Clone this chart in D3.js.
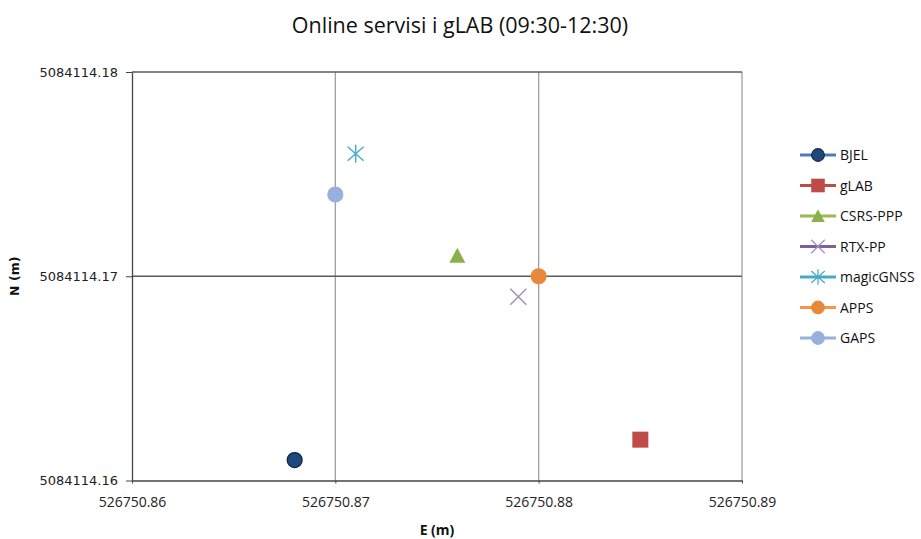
<!DOCTYPE html>
<html lang="hr">
  <head>
    <meta charset="UTF-8" />
    <title>Online servisi i gLAB</title>
    <style>
      body { margin: 0; background: #fff; }
      .tick text { fill: #222; }
    </style>
  </head>
  <body>
    <script src="https://d3js.org/d3.v7.min.js"></script>
    <script>
      // data
      const stations = ["BJEL", "gLAB", "CSRS-PPP", "RTX-PP", "magicGNSS", "APPS", "GAPS"];
      const eastings = [526750.868, 526750.885, 526750.876, 526750.879, 526750.871, 526750.880, 526750.870];
      const northings = [5084114.161, 5084114.162, 5084114.171, 5084114.169, 5084114.176, 5084114.170, 5084114.174];
      const xTicks = [526750.86, 526750.87, 526750.88, 526750.89];
      const yTicks = [5084114.16, 5084114.17, 5084114.18];

      const lineColors = ["#4a7ebb", "#be4b48", "#98b954", "#7d60a0", "#46aac5", "#f79646", "#98b0dc"];
      const markColors = ["#1f497d", "#be4b48", "#8ab04a", "#a48fc2", "#4bacc6", "#e8883a", "#98b0dc"];
      const shapes = ["circle", "square", "triangle", "x", "star", "circle", "circle"];

      const W = 921, H = 539;
      const margin = { top: 72, right: 179, bottom: 58, left: 132 };

      const svg = d3.select("body").append("svg").attr("width", W).attr("height", H);

      const x = d3.scaleLinear().domain([526750.86, 526750.89]).range([margin.left, W - margin.right]);
      const y = d3.scaleLinear().domain([5084114.16, 5084114.18]).range([H - margin.bottom - 0.5, margin.top]);

      // vertical grid
      svg.append("g")
        .selectAll("line")
        .data(xTicks.slice(1))
        .join("line")
        .attr("x1", (d) => x(d)).attr("x2", (d) => x(d))
        .attr("y1", y(5084114.18)).attr("y2", y(5084114.16))
        .attr("stroke", "#a0a0a0").attr("stroke-width", 1.3);

      // horizontal grid
      svg.append("g")
        .selectAll("line")
        .data(yTicks.slice(1))
        .join("line")
        .attr("x1", x(526750.86)).attr("x2", x(526750.89))
        .attr("y1", (d) => y(d)).attr("y2", (d) => y(d))
        .attr("stroke", "#5a5a5a").attr("stroke-width", 1.3);

      const fmtX = (d) => d3.format(".2f")(d);
      const xAxis = svg.append("g")
        .attr("transform", `translate(0, ${y(5084114.16)})`)
        .call(d3.axisBottom(x).tickValues(xTicks).tickFormat(fmtX).tickSize(3).tickPadding(14).tickSizeOuter(0));
      xAxis.select(".domain").attr("stroke", "#444").attr("stroke-width", 1.3);
      xAxis.selectAll(".tick line").attr("stroke", "#444");
      xAxis.selectAll("text")
        .style("font-family", "'Liberation Sans Narrow', 'Open Sans', sans-serif")
        .style("font-size", "14px");

      const yAxis = svg.append("g")
        .attr("transform", `translate(${x(526750.86)}, 0)`)
        .call(d3.axisLeft(y).tickValues(yTicks).tickFormat((d) => d3.format(".2f")(d)).tickSize(6).tickPadding(8).tickSizeOuter(0));
      yAxis.select(".domain").attr("stroke", "#444").attr("stroke-width", 1.3);
      yAxis.selectAll(".tick line").attr("stroke", "#444");
      yAxis.selectAll("text")
        .style("font-family", "'DejaVu Sans', Verdana, sans-serif")
        .style("font-size", "13px");

      // title and axis titles
      svg.append("text")
        .attr("x", 460).attr("y", 33)
        .attr("text-anchor", "middle")
        .style("font-family", "'Open Sans', sans-serif")
        .style("font-size", "21.5px")
        .attr("fill", "#111")
        .text("Online servisi i gLAB (09:30-12:30)");

      svg.append("text")
        .attr("x", (x(526750.86) + x(526750.89)) / 2).attr("y", 535)
        .attr("text-anchor", "middle")
        .style("font-family", "'Open Sans', sans-serif")
        .style("font-size", "14px").style("font-weight", "bold")
        .attr("fill", "#111")
        .text("E (m)");

      svg.append("text")
        .attr("transform", `translate(19, ${y(5084114.17)}) rotate(-90)`)
        .attr("text-anchor", "middle")
        .style("font-family", "'DejaVu Sans', sans-serif")
        .style("font-size", "12.5px").style("font-weight", "bold")
        .attr("fill", "#111")
        .text("N (m)");

      // markers
      function drawMarker(g, shape, fill, stroke) {
        if (shape === "circle") {
          g.append("circle").attr("r", 7.5).attr("fill", fill)
            .attr("stroke", stroke).attr("stroke-width", 1.2);
        } else if (shape === "square") {
          g.append("rect").attr("x", -8).attr("y", -8).attr("width", 16).attr("height", 16)
            .attr("fill", fill);
        } else if (shape === "triangle") {
          g.append("path").attr("d", "M0,-8L8,7L-8,7Z").attr("fill", fill);
        } else if (shape === "x") {
          g.append("path").attr("d", "M-8,-8L8,8M-8,8L8,-8").attr("stroke", fill).attr("stroke-width", 1.5);
        } else if (shape === "star") {
          g.append("path").attr("d", "M-8,-7L8,7M-8,7L8,-7M0,-9V9").attr("stroke", fill).attr("stroke-width", 1.5);
        }
      }

      const points = stations.map((s, i) => ({ s, e: eastings[i], n: northings[i], i }));

      svg.append("g")
        .selectAll("g")
        .data(points)
        .join("g")
        .attr("transform", (d) => `translate(${x(d.e)}, ${y(d.n)})`)
        .each(function (d) {
          const stroke = d.i === 0 ? "#10243e" : markColors[d.i];
          drawMarker(d3.select(this), shapes[d.i], markColors[d.i], stroke);
        });

      // legend
      const legend = svg.append("g").attr("transform", "translate(800, 155)");
      const rows = legend.selectAll("g")
        .data(points)
        .join("g")
        .attr("transform", (d) => `translate(0, ${d.i * 30.5})`);
      rows.append("line")
        .attr("x1", 0).attr("x2", 36).attr("y1", 0).attr("y2", 0)
        .attr("stroke", (d) => lineColors[d.i]).attr("stroke-width", 2.8);
      rows.each(function (d) {
        const g = d3.select(this).append("g").attr("transform", "translate(18, 0) scale(0.85)");
        const stroke = d.i === 0 ? "#10243e" : markColors[d.i];
        drawMarker(g, shapes[d.i], markColors[d.i], stroke);
      });
      rows.append("text")
        .attr("x", 40).attr("y", 5)
        .style("font-family", "'Open Sans', sans-serif")
        .style("font-size", "14px")
        .attr("fill", "#111")
        .text((d) => d.s);
    </script>
  </body>
</html>
